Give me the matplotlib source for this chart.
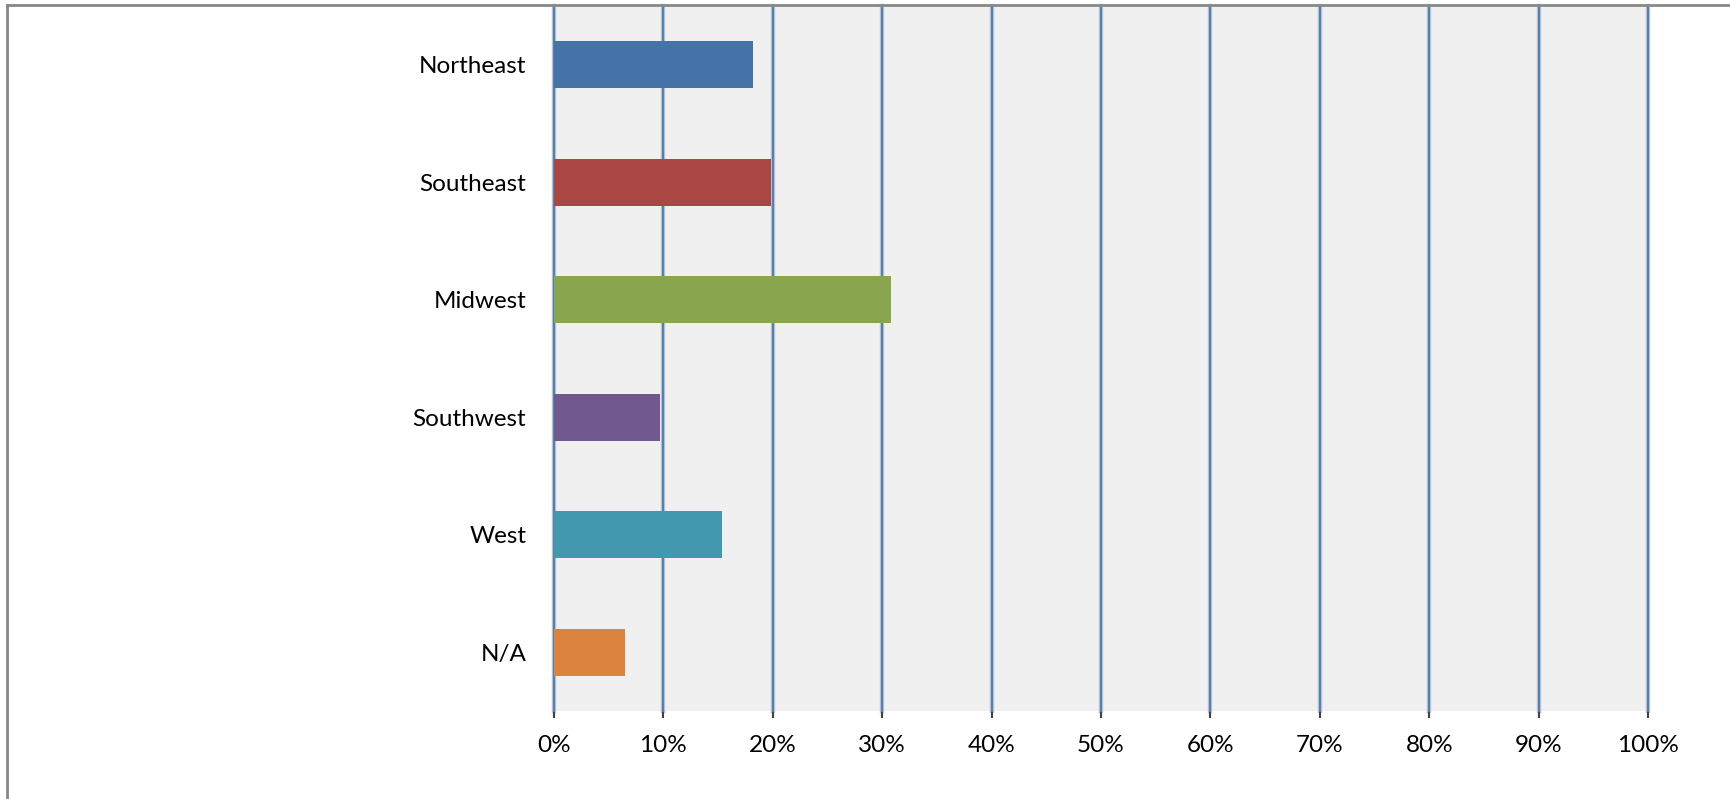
import matplotlib.pyplot as plt
from matplotlib.lines import Line2D

# regions and share of responses (%)
regions = ['Northeast', 'Southeast', 'Midwest', 'Southwest', 'West', 'N/A']
shares = [18.2, 19.8, 30.8, 9.7, 15.4, 6.5]
bar_colors = ['#4572A7', '#AA4643', '#89A54E', '#71588F', '#4198AF', '#DB843D']
x_ticks = list(range(0, 101, 10))
x_labels = [f'{t}%' for t in x_ticks]

plt.rcParams['font.family'] = ['Lato', 'DejaVu Sans']

fig = plt.figure(figsize=(17.30, 7.99), dpi=100)
ax = fig.add_axes([554 / 1730, 1 - 711 / 799, (1648 - 554) / 1730, (711 - 6) / 799])
ax.set_facecolor('#F0F0F0')

ypos = list(range(len(regions)))
ax.barh(ypos, shares, height=0.4, color=bar_colors, zorder=3)

# vertical gridlines (blue with soft grey edge)
for t in x_ticks:
    ax.axvline(t, color='#C8C8C8', lw=3.2, zorder=1, clip_on=False)
    ax.axvline(t, color='#4F81BD', lw=1.6, zorder=2, clip_on=False)

ax.set_xlim(0, 100)
ax.set_ylim(len(regions) - 0.5, -0.5)
ax.set_yticks(ypos)
ax.set_yticklabels(regions, fontsize=17.5)
ax.set_xticks(x_ticks)
ax.set_xticklabels(x_labels, fontsize=17.5)
ax.tick_params(axis='y', length=0, pad=20)
ax.tick_params(axis='x', length=5, width=1.5, color='#404040', pad=12)
for s in ax.spines.values():
    s.set_visible(False)

# outer chart border (top and left only visible)
fig.add_artist(Line2D([7 / 1730, 1], [1 - 5 / 799, 1 - 5 / 799], color='#888888', lw=2))
fig.add_artist(Line2D([7 / 1730, 7 / 1730], [0, 1 - 5 / 799], color='#888888', lw=2))

fig.savefig('out.png', dpi=100)
